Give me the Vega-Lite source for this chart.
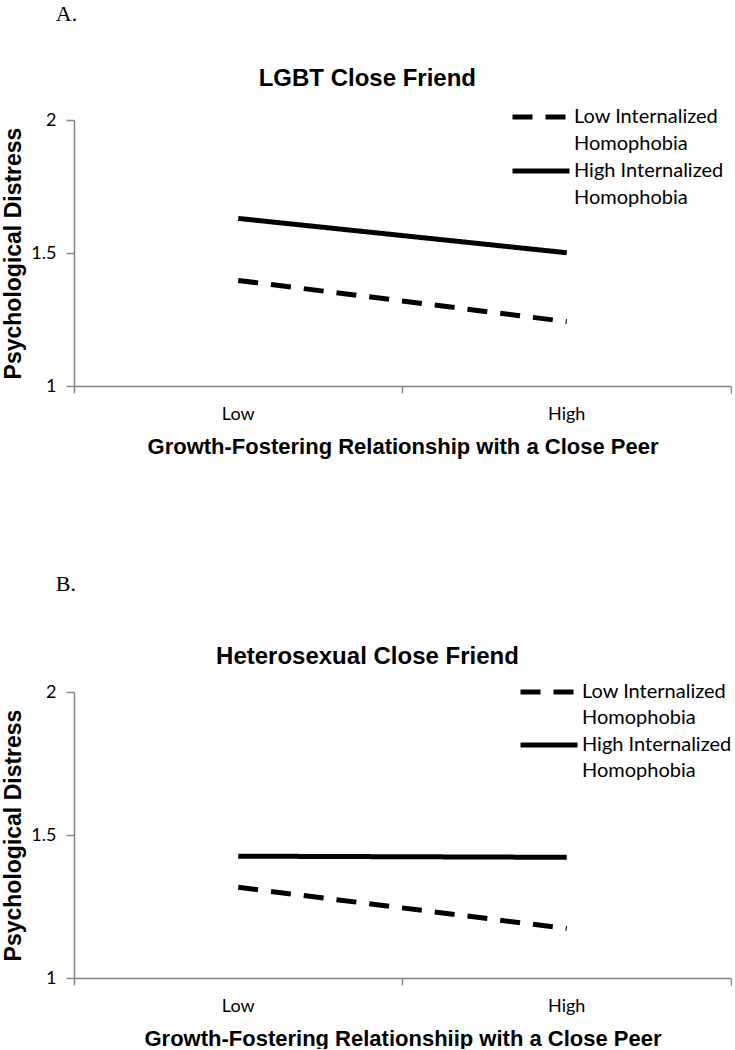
{
  "$schema": "https://vega.github.io/schema/vega-lite/v6.json",
  "padding": {"left": 2, "right": 0, "top": 3, "bottom": 0},
  "background": "white",
  "config": {
    "view": {"stroke": null},
    "font": "Liberation Sans",
    "axis": {
      "domainColor": "#868686",
      "tickColor": "#868686",
      "domainWidth": 1.5,
      "tickWidth": 1.5,
      "grid": false,
      "labelFont": "Lato",
      "labelFontSize": 18,
      "labelColor": "#000000",
      "titleFont": "Liberation Sans",
      "titleFontWeight": "bold",
      "titleColor": "#000000"
    },
    "concat": {"spacing": 116}
  },
  "resolve": {"scale": {"strokeDash": "independent"}, "legend": {"strokeDash": "independent"}},
  "datasets": {
    "lgbt": [
      {"relationship": "Low", "homophobia": "Low Internalized Homophobia", "distress": 1.397},
      {"relationship": "High", "homophobia": "Low Internalized Homophobia", "distress": 1.242},
      {"relationship": "Low", "homophobia": "High Internalized Homophobia", "distress": 1.630},
      {"relationship": "High", "homophobia": "High Internalized Homophobia", "distress": 1.501}
    ],
    "hetero": [
      {"relationship": "Low", "homophobia": "Low Internalized Homophobia", "distress": 1.317},
      {"relationship": "High", "homophobia": "Low Internalized Homophobia", "distress": 1.173},
      {"relationship": "Low", "homophobia": "High Internalized Homophobia", "distress": 1.426},
      {"relationship": "High", "homophobia": "High Internalized Homophobia", "distress": 1.422}
    ]
  },
  "vconcat": [
    {
      "title": {"text": "A.", "anchor": "start", "font": "Liberation Serif", "fontSize": 22, "fontWeight": "normal", "color": "#000000", "dx": 53, "offset": 41},
      "resolve": {"scale": {"strokeDash": "independent"}, "legend": {"strokeDash": "independent"}},
      "vconcat": [
        {
          "title": {"text": "LGBT Close Friend", "anchor": "middle", "frame": "bounds", "fontSize": 24, "fontWeight": "bold", "color": "#000000", "offset": 9},
          "width": 657,
          "height": 266,
          "data": {"name": "lgbt"},
          "mark": {"type": "line", "strokeWidth": 5, "color": "#000000", "strokeCap": "butt"},
          "encoding": {
            "x": {
              "field": "relationship", "type": "nominal", "sort": ["Low", "High"],
              "scale": {"type": "band", "paddingInner": 0, "paddingOuter": 0},
              "axis": {"title": "Growth-Fostering Relationship with a Close Peer", "titleFontSize": 22, "titlePadding": 13, "labelAngle": 0, "labelPadding": 12, "tickSize": 7, "bandPosition": 1, "tickExtra": true}
            },
            "y": {
              "field": "distress", "type": "quantitative",
              "scale": {"domain": [1, 2]},
              "axis": {"title": "Psychological Distress", "titleFontSize": 23, "titlePadding": 5, "values": [1, 1.5, 2], "format": "~g", "tickSize": 8, "labelPadding": 10}
            },
            "strokeDash": {
              "field": "homophobia", "type": "nominal",
              "scale": {"domain": ["Low Internalized Homophobia", "High Internalized Homophobia"], "range": [[20, 13], [1, 0]]},
              "legend": {
                "title": null, "orient": "none", "legendX": 450, "legendY": -20,
                "symbolType": "M-2,0H2", "symbolStrokeWidth": 5, "symbolSize": 812, "symbolStrokeColor": "#000000", "symbolFillColor": "transparent",
                "labelFont": "Lato", "labelFontSize": 20, "labelColor": "#000000", "labelLimit": 0, "labelOffset": 16,
                "labelExpr": "[replace(datum.label, ' Homophobia', ''), 'Homophobia']",
                "rowPadding": 0,
                "encode": {"labels": {"update": {"lineHeight": {"value": 27}}}}
              }
            }
          }
        }
      ]
    },
    {
      "title": {"text": "B.", "anchor": "start", "font": "Liberation Serif", "fontSize": 22, "fontWeight": "normal", "color": "#000000", "dx": 53, "offset": 49},
      "resolve": {"scale": {"strokeDash": "independent"}, "legend": {"strokeDash": "independent"}},
      "vconcat": [
        {
          "title": {"text": "Heterosexual Close Friend", "anchor": "middle", "frame": "bounds", "fontSize": 24, "fontWeight": "bold", "color": "#000000", "offset": 6},
          "width": 657,
          "height": 286,
          "data": {"name": "hetero"},
          "mark": {"type": "line", "strokeWidth": 5, "color": "#000000", "strokeCap": "butt"},
          "encoding": {
            "x": {
              "field": "relationship", "type": "nominal", "sort": ["Low", "High"],
              "scale": {"type": "band", "paddingInner": 0, "paddingOuter": 0},
              "axis": {"title": "Growth-Fostering Relationshiip with a Close Peer", "titleFontSize": 22, "titlePadding": 13, "labelAngle": 0, "labelPadding": 12, "tickSize": 7, "bandPosition": 1, "tickExtra": true}
            },
            "y": {
              "field": "distress", "type": "quantitative",
              "scale": {"domain": [1, 2]},
              "axis": {"title": "Psychological Distress", "titleFontSize": 23, "titlePadding": 5, "values": [1, 1.5, 2], "format": "~g", "tickSize": 8, "labelPadding": 10}
            },
            "strokeDash": {
              "field": "homophobia", "type": "nominal",
              "scale": {"domain": ["Low Internalized Homophobia", "High Internalized Homophobia"], "range": [[20, 13], [1, 0]]},
              "legend": {
                "title": null, "orient": "none", "legendX": 458, "legendY": -17,
                "symbolType": "M-2,0H2", "symbolStrokeWidth": 5, "symbolSize": 812, "symbolStrokeColor": "#000000", "symbolFillColor": "transparent",
                "labelFont": "Lato", "labelFontSize": 20, "labelColor": "#000000", "labelLimit": 0, "labelOffset": 16,
                "labelExpr": "[replace(datum.label, ' Homophobia', ''), 'Homophobia']",
                "rowPadding": 0,
                "encode": {"labels": {"update": {"lineHeight": {"value": 26}}}}
              }
            }
          }
        }
      ]
    }
  ]
}
